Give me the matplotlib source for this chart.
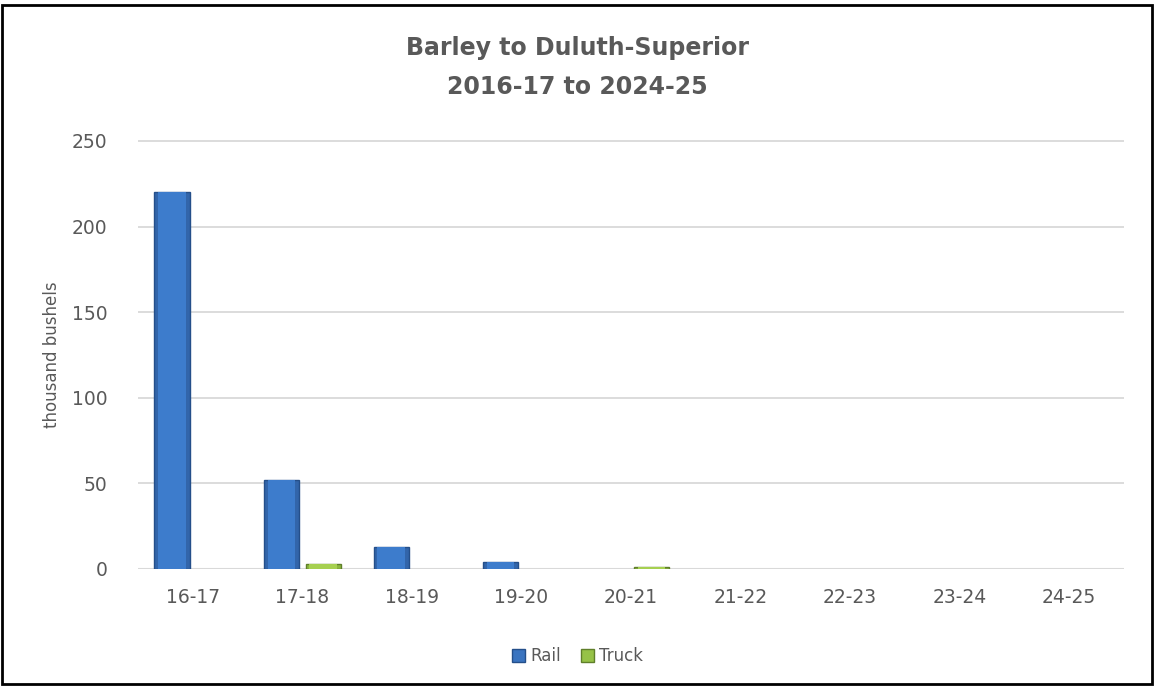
import matplotlib
matplotlib.use("Agg")
import matplotlib.pyplot as plt
import numpy as np
from matplotlib.patches import Rectangle, Patch

categories = ["16-17", "17-18", "18-19", "19-20", "20-21", "21-22", "22-23", "23-24", "24-25"]
rail = [220, 52, 13, 4.3, 0, 0, 0, 0, 0]
truck = [0, 3, 0, 0, 1.0, 0, 0, 0, 0]
yticks = [0, 50, 100, 150, 200, 250]

plt.rcParams['font.family'] = ['DejaVu Sans']
text_color = '#595959'

fig = plt.figure(figsize=(11.55, 6.96), dpi=100)
ax = fig.add_axes([0.1195, 0.1825, 0.8535, 0.6165])

x = np.arange(len(categories))
w = 0.32
off = 0.19
rail_lw = [1.0 if v > 0 else 0 for v in rail]
truck_lw = [1.0 if v > 0 else 0 for v in truck]
rail_ec = ['#244f8a' if v > 0 else 'none' for v in rail]
truck_ec = ['#5f7f2a' if v > 0 else 'none' for v in truck]
ax.bar(x - off, rail, width=w, color='#3265aa', edgecolor=rail_ec, linewidth=rail_lw, zorder=3)
ax.bar(x - off, rail, width=w * 0.78, color='#3d7ccc', linewidth=0, zorder=4)
ax.bar(x + off, truck, width=w, color='#8cb83e', edgecolor=truck_ec, linewidth=truck_lw, zorder=3)
ax.bar(x + off, truck, width=w * 0.78, color='#a6d050', linewidth=0, zorder=4)

ax.set_xlim(-0.5, len(categories) - 0.5)
ax.set_ylim(0, 250.6)
ax.set_yticks(yticks)
ax.set_xticks(x)
ax.set_xticklabels(categories)
ax.tick_params(axis='both', length=0, colors=text_color, labelsize=13.5)
ax.tick_params(axis='x', pad=14)
ax.tick_params(axis='y', pad=22)
ax.grid(axis='y', color='#d9d9d9', linewidth=1.3, zorder=0)
for s in ax.spines.values():
    s.set_visible(False)
ax.axhline(0, color='#d9d9d9', linewidth=1.5, zorder=2)

ax.set_ylabel('thousand bushels', color=text_color, fontsize=12, labelpad=8)

fig.text(0.5, 0.903, 'Barley to Duluth-Superior\n2016-17 to 2024-25', ha='center', va='center',
         fontsize=17, color=text_color, fontweight='semibold', linespacing=1.75)

handles = [Patch(facecolor='#3a74c0', edgecolor='#244f8a', linewidth=1.0, label='Rail'),
           Patch(facecolor='#96c247', edgecolor='#5f7f2a', linewidth=1.0, label='Truck')]
leg = fig.legend(handles=handles, loc='center', bbox_to_anchor=(0.5, 0.057), ncol=2, frameon=False,
                 fontsize=12, handlelength=0.8, handleheight=0.8, handletextpad=0.3,
                 columnspacing=1.2)
for t in leg.get_texts():
    t.set_color(text_color)

fig.patches.append(Rectangle((2/1155, 1-684/696), 1150/1155, 679/696, transform=fig.transFigure,
                             fill=False, edgecolor='black', linewidth=2))

fig.savefig('out.png', dpi=100)
